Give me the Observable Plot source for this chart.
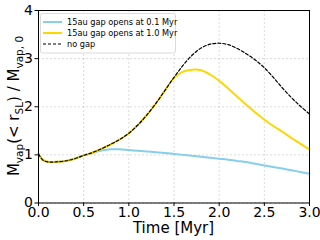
<!DOCTYPE html>
<html><head><meta charset="utf-8">
<script src="https://cdn.jsdelivr.net/npm/d3@7"></script>
<script src="https://cdn.jsdelivr.net/npm/@observablehq/plot@0.6"></script>
<style>
html,body{margin:0;padding:0;background:#fff;}
#chart{width:320px;height:240px;overflow:hidden;}
svg{font-family:"DejaVu Sans",sans-serif;}
</style></head>
<body><div id="chart"></div>
<script>
const times = [0,0.05,0.1,0.15,0.2,0.3,0.4,0.5,0.6,0.7,0.8,0.9,1.0,1.1,1.2,1.3,1.4,1.5,1.6,1.7,1.8,1.9,2.0,2.1,2.2,2.3,2.4,2.5,2.6,2.7,2.8,2.9,3.0];
const noGap = [1.02,0.89,0.855,0.85,0.855,0.875,0.92,0.99,1.05,1.13,1.22,1.32,1.45,1.62,1.83,2.07,2.34,2.61,2.86,3.07,3.22,3.30,3.32,3.29,3.21,3.10,2.97,2.81,2.61,2.39,2.19,2.01,1.85];
const gap10 = [1.02,0.89,0.855,0.85,0.855,0.875,0.92,0.99,1.05,1.13,1.22,1.32,1.45,1.62,1.83,2.07,2.34,2.60,2.73,2.77,2.76,2.67,2.54,2.38,2.21,2.04,1.88,1.73,1.60,1.48,1.35,1.23,1.11];
const gap01 = [1.02,0.89,0.855,0.85,0.855,0.875,0.92,0.99,1.04,1.09,1.115,1.115,1.10,1.085,1.07,1.055,1.04,1.02,1.0,0.98,0.96,0.94,0.92,0.90,0.875,0.85,0.815,0.78,0.75,0.715,0.68,0.645,0.61];
const seriesNames = ["15au gap opens at 0.1 Myr","15au gap opens at 1.0 Myr","no gap"];
const xTicks = [0,0.5,1.0,1.5,2.0,2.5,3.0];
const yTicks = [0,1,2,3,4];

const rows = (vals) => times.map((t,i)=>({t, v: vals[i]}));

const plot = Plot.plot({
  width: 320, height: 240,
  marginLeft: 38, marginRight: 11, marginTop: 10, marginBottom: 37.5,
  style: {fontFamily: "DejaVu Sans, sans-serif", fontSize: "14px", background: "#fff", overflow: "visible"},
  x: {domain: [0,3], ticks: xTicks, tickFormat: d3.format(".1f"), label: null, tickSize: 3.5, tickPadding: 1},
  y: {domain: [0,4], ticks: yTicks, tickFormat: d3.format("d"), label: null, tickSize: 3.5, tickPadding: 2},
  marks: [
    Plot.gridX(xTicks, {stroke: "#b0b0b0", strokeOpacity: 0.6, strokeDasharray: "2,2", strokeWidth: 0.8}),
    Plot.gridY(yTicks, {stroke: "#b0b0b0", strokeOpacity: 0.6, strokeDasharray: "2,2", strokeWidth: 0.8}),
    Plot.lineY(rows(gap01), {x: "t", y: "v", stroke: "#87CEEB", strokeWidth: 2, curve: "catmull-rom"}),
    Plot.lineY(rows(gap10), {x: "t", y: "v", stroke: "#FFD700", strokeWidth: 2, curve: "catmull-rom"}),
    Plot.lineY(rows(noGap), {x: "t", y: "v", stroke: "#000", strokeWidth: 1.2, strokeDasharray: "3,2", curve: "catmull-rom"}),
    Plot.frame({stroke: "#000", strokeWidth: 1}),
    Plot.axisX({ticks: xTicks, tickFormat: d3.format(".1f"), tickSize: 3.5, tickPadding: 1, fontSize: 14, label: null, fill: "#000"}),
    Plot.axisY({ticks: yTicks, tickFormat: d3.format("d"), tickSize: 3.5, tickPadding: 2, fontSize: 14, label: null, fill: "#000"})
  ]
});
document.getElementById("chart").appendChild(plot);

const svg = d3.select(plot);
// x-axis label
svg.append("text").attr("x", 173.5).attr("y", 233).attr("text-anchor", "middle")
  .attr("font-size", 15).attr("fill", "#000").text("Time [Myr]");
// y-axis label with subscripts
const yl = svg.append("text").attr("transform", "translate(19,106) rotate(-90)")
  .attr("text-anchor", "middle").attr("font-size", 15).attr("fill", "#000");
yl.append("tspan").text("M");
yl.append("tspan").attr("font-size", 10.5).attr("dy", 3.5).text("vap");
yl.append("tspan").attr("dy", -3.5).text("(< r");
yl.append("tspan").attr("font-size", 10.5).attr("dy", 3.5).text("SL");
yl.append("tspan").attr("dy", -3.5).text(") / M");
yl.append("tspan").attr("font-size", 10.5).attr("dy", 3.5).text("vap, 0");

// legend
const lg = svg.append("g").attr("text-anchor", "start");
lg.append("rect").attr("x", 40.5).attr("y", 13.5).attr("width", 135).attr("height", 39.5)
  .attr("rx", 2).attr("fill", "#fff").attr("fill-opacity", 0.85).attr("stroke", "#d0d0d0").attr("stroke-width", 0.8);
const legendStyles = [
  {stroke: "#87CEEB", w: 2, dash: null},
  {stroke: "#FFD700", w: 2, dash: null},
  {stroke: "#000", w: 1.2, dash: "3,2"}
];
seriesNames.forEach((name, i) => {
  const y = 22 + i * 11;
  const s = legendStyles[i];
  const l = lg.append("line").attr("x1", 43).attr("x2", 62).attr("y1", y).attr("y2", y)
    .attr("stroke", s.stroke).attr("stroke-width", s.w);
  if (s.dash) l.attr("stroke-dasharray", s.dash);
  lg.append("text").attr("x", 67).attr("y", y + 3).attr("text-anchor", "start")
    .attr("font-size", 8.2).attr("fill", "#000").text(name);
});
</script>
</body></html>
